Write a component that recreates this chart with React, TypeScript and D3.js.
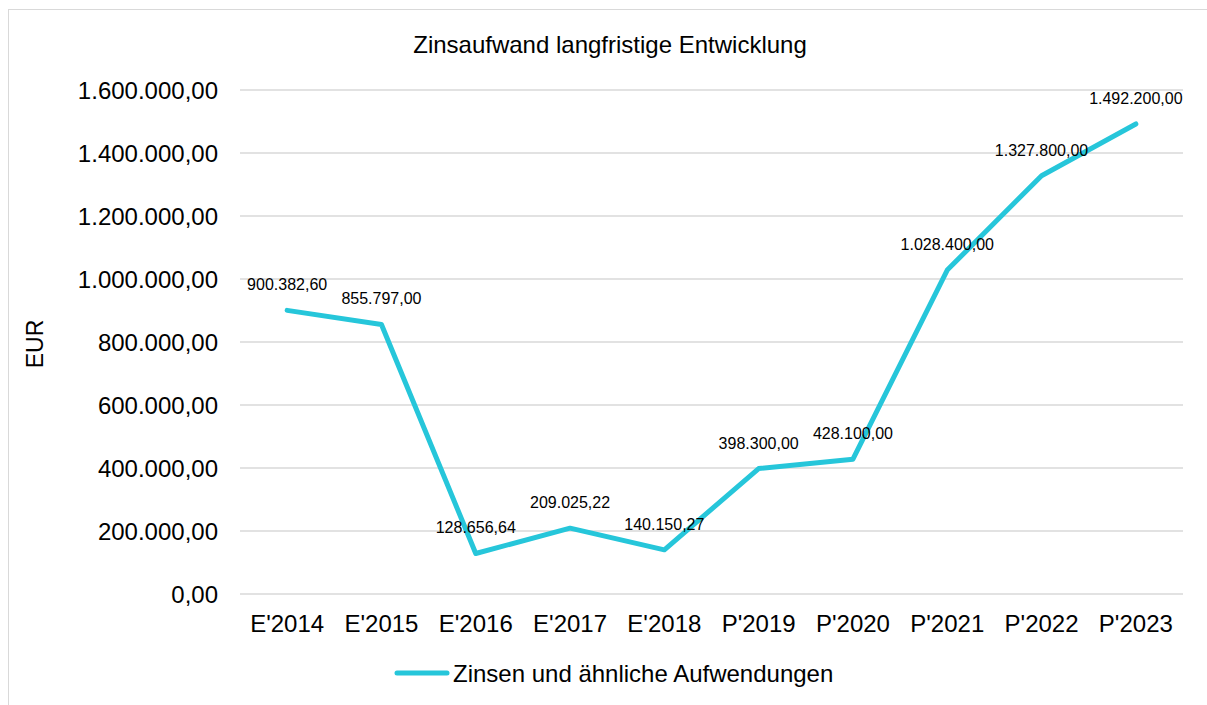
import React from "react";
import * as d3 from "d3";

const categories = ["E'2014", "E'2015", "E'2016", "E'2017", "E'2018", "P'2019", "P'2020", "P'2021", "P'2022", "P'2023"];
const values = [900382.6, 855797.0, 128656.64, 209025.22, 140150.27, 398300.0, 428100.0, 1028400.0, 1327800.0, 1492200.0];
const yTicks = [0, 200000, 400000, 600000, 800000, 1000000, 1200000, 1400000, 1600000];
const seriesName = "Zinsen und ähnliche Aufwendungen";
const title = "Zinsaufwand langfristige Entwicklung";
const yTitle = "EUR";

const W = 1207;
const H = 705;
const color = "#26C6DA";
const font = "'Liberation Sans', Arial, sans-serif";

const locale = d3.formatLocale({ decimal: ",", thousands: ".", grouping: [3], currency: ["", "€"] });
const fmt = (v: number) => locale.format(",.2f")(v);

export default function App() {
  const x = d3.scaleBand<string>().domain(categories).range([240, 1183]);
  const y = d3.scaleLinear().domain([0, 1600000]).range([594, 90]);
  const cx = (i: number) => (x(categories[i]) as number) + x.bandwidth() / 2;
  const line = d3
    .line<number>()
    .x((_, i) => cx(i))
    .y((d) => y(d));

  return (
    <svg width={W} height={H} style={{ position: "absolute", left: 0, top: 0 }} fontFamily={font}>
      <rect x={8.5} y={9.5} width={1199} height={700} fill="#fff" stroke="#d9d9d9" strokeWidth={1} />
      <text x={610} y={53} textAnchor="middle" fontSize={24} fill="#000">{title}</text>
      {yTicks.map((t) => (
        <g key={t}>
          <line x1={240} x2={1183} y1={y(t)} y2={y(t)} stroke="#d9d9d9" strokeWidth={1.3} />
          <text x={218} y={y(t) + 8.5} textAnchor="end" fontSize={24} fill="#000">{fmt(t)}</text>
        </g>
      ))}
      <text transform={`translate(43,344) rotate(-90)`} textAnchor="middle" fontSize={23} fill="#000">{yTitle}</text>
      {categories.map((c, i) => (
        <text key={c} x={cx(i)} y={632} textAnchor="middle" fontSize={24} fill="#000">{c}</text>
      ))}
      <path d={line(values) || ""} fill="none" stroke={color} strokeWidth={5} strokeLinejoin="round" strokeLinecap="round" />
      {values.map((v, i) => (
        <text key={i} x={cx(i)} y={y(v) - 20} textAnchor="middle" fontSize={16} fill="#000">{fmt(v)}</text>
      ))}
      <line x1={397} x2={447} y1={673} y2={673} stroke={color} strokeWidth={5} strokeLinecap="round" />
      <text x={453} y={681.5} fontSize={24} fill="#000">{seriesName}</text>
    </svg>
  );
}
